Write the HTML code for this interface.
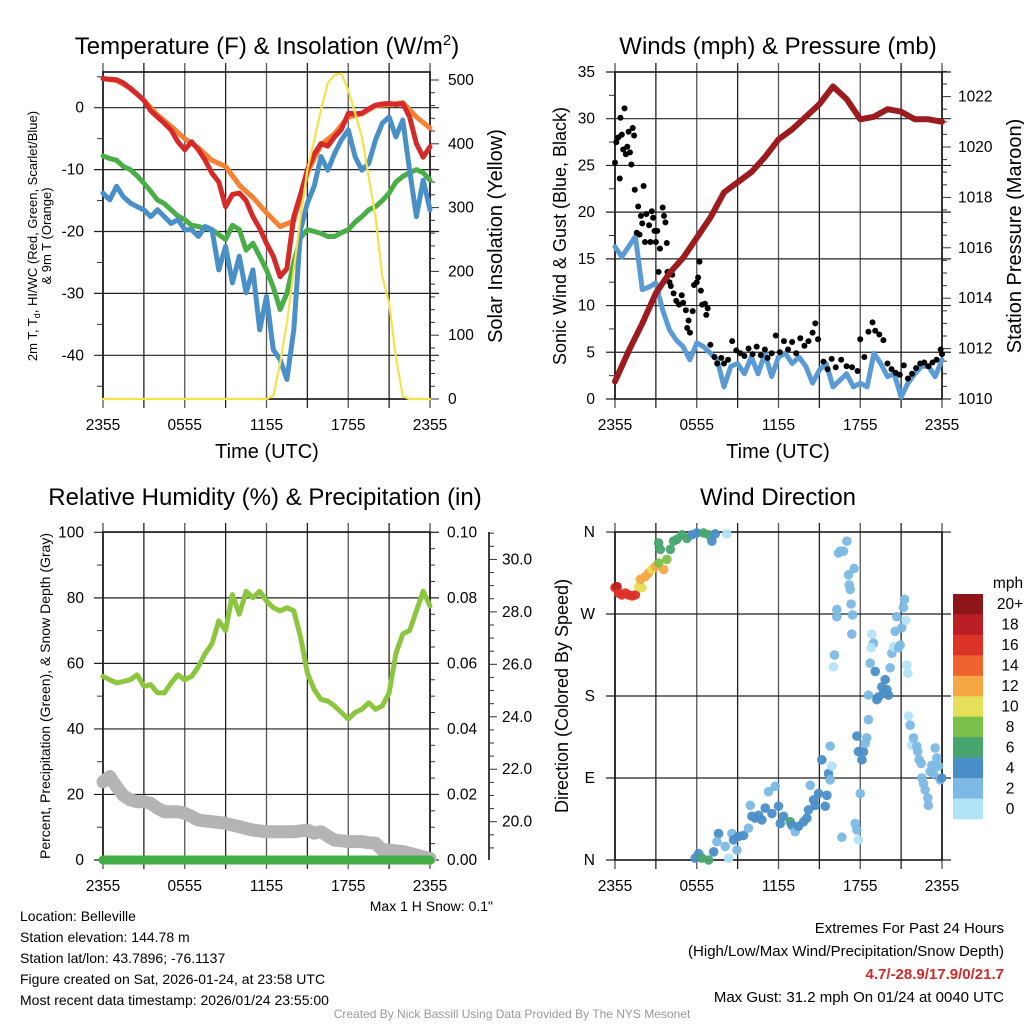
<!DOCTYPE html>
<html><head><meta charset="utf-8"><title>Mesonet Meteogram</title>
<style>
html,body{margin:0;padding:0;background:#fff;}
svg{display:block;font-family:"Liberation Sans",sans-serif;}
</style></head>
<body>
<svg id="fig" width="1024" height="1024" viewBox="0 0 1024 1024" xmlns="http://www.w3.org/2000/svg">
<rect x="0" y="0" width="1024" height="1024" fill="#fff"/>
<text x="267" y="54" font-size="24" text-anchor="middle">Temperature (F) &amp; Insolation (W/m<tspan dy="-9" font-size="15">2</tspan><tspan dy="9">)</tspan></text>
<text x="778" y="54" font-size="24" text-anchor="middle">Winds (mph) &amp; Pressure (mb)</text>
<text x="265" y="505" font-size="24" text-anchor="middle">Relative Humidity (%) &amp; Precipitation (in)</text>
<text x="778" y="505" font-size="24" text-anchor="middle">Wind Direction</text>
<text x="267" y="458" font-size="20" text-anchor="middle">Time (UTC)</text>
<text x="778" y="458" font-size="20" text-anchor="middle">Time (UTC)</text>
<text transform="translate(37,236) rotate(-90)" font-size="13" text-anchor="middle">2m T, T<tspan dy="3" font-size="9">d</tspan><tspan dy="-3">, HI/WC (Red, Green, Scarlet/Blue)</tspan></text>
<text transform="translate(51,236) rotate(-90)" font-size="13" text-anchor="middle">&amp; 9m T (Orange)</text>
<text transform="translate(502,236) rotate(-90)" font-size="20" text-anchor="middle">Solar Insolation (Yellow)</text>
<text transform="translate(566,236) rotate(-90)" font-size="18" text-anchor="middle">Sonic Wind &amp; Gust (Blue, Black)</text>
<text transform="translate(1021,236) rotate(-90)" font-size="20" text-anchor="middle">Station Pressure (Maroon)</text>
<text transform="translate(50,696) rotate(-90)" font-size="14" text-anchor="middle">Percent, Precipitation (Green), &amp; Snow Depth (Gray)</text>
<text transform="translate(568,696) rotate(-90)" font-size="18" text-anchor="middle">Direction (Colored By Speed)</text>
<text x="493" y="911" font-size="14" text-anchor="end">Max 1 H Snow: 0.1"</text>
<g font-size="14">
<text x="20" y="921">Location: Belleville</text>
<text x="20" y="942">Station elevation: 144.78 m</text>
<text x="20" y="963">Station lat/lon: 43.7896; -76.1137</text>
<text x="20" y="984">Figure created on Sat, 2026-01-24, at 23:58 UTC</text>
<text x="20" y="1005">Most recent data timestamp: 2026/01/24 23:55:00</text>
</g>
<g font-size="14" text-anchor="end">
<text x="1004" y="933" font-size="15">Extremes For Past 24 Hours</text>
<text x="1004" y="956" font-size="15">(High/Low/Max Wind/Precipitation/Snow Depth)</text>
<text x="1004" y="979" font-size="15" font-weight="bold" fill="#d02a2a">4.7/-28.9/17.9/0/21.7</text>
<text x="1004" y="1002" font-size="15">Max Gust: 31.2 mph On 01/24 at 0040 UTC</text>
</g>
<text x="512" y="1018" font-size="12" fill="#999" text-anchor="middle">Created By Nick Bassill Using Data Provided By The NYS Mesonet</text>
<g id="layer"></g>
</svg>
<script>
// ---------- data ----------
const timeTicks = ["2355","0555","1155","1755","2355"];
const tempRed = [4.7,4.6,4.5,4.0,3.1,2.2,1.2,-0.5,-1.5,-2.5,-3.6,-5.5,-6.8,-5.5,-6.8,-8.5,-10.6,-12,-16,-14,-13.8,-15,-17.6,-19.5,-21.9,-24,-27.3,-26,-17.6,-14,-10,-7.5,-5.8,-6.2,-4.7,-3.5,-0.9,-1.0,-0.9,-0.2,0.4,0.6,0.7,0.5,0.7,-1.5,-5.8,-8,-6.3];
const temp9m = [4.7,4.4,3.2,1.2,-1.2,-3.0,-5.0,-6.5,-8.5,-9.5,-12.5,-14.5,-17,-19.2,-18.3,-10.5,-6,-4.2,-1.5,-1,0.3,0.5,0.8,-1.5,-3.3];
const dewpoint = [-7.8,-8.2,-8.5,-9.5,-10,-11,-12.2,-13.5,-14.9,-15.5,-16.5,-17.5,-18.1,-19,-19.2,-19.5,-19.7,-20.5,-21.3,-19,-19.7,-23,-21.9,-24,-26.2,-29,-32.6,-30,-25,-21,-19.7,-20,-20.3,-20.8,-20.8,-20.2,-19.7,-18.5,-17.6,-16.5,-16,-15,-13.8,-12,-11.1,-10.5,-10,-10.5,-11.7];
const windChill = [-13.8,-14.9,-12.7,-14.4,-15.4,-16,-16.5,-17.6,-16.5,-17.6,-18.7,-18.1,-19.7,-19.7,-20.8,-19.2,-19.7,-26.2,-22.4,-28.3,-24,-29.9,-26.2,-35.9,-30.5,-39.1,-40.7,-43.9,-35.9,-19.7,-15.4,-12.7,-7.9,-10.1,-7.4,-5.2,-3.6,-7.9,-10.1,-9,-5.2,-2.5,-1.5,-4.7,-2,-10.1,-17.6,-11.7,-16.5];
const solar = [0,0,0,0,0,0,0,0,0,0,0,0,0,0,0,0,0,0,0,0,0,0,0,0,0,5,56,119,202,286,359,406,453,495,508,510,484,448,411,348,286,192,150,66,4,0,0,0,0];
const sonicWind = [16.3,15.2,16.3,17.4,11.7,12,12.4,9.5,7.4,6.3,5.6,4.2,6.0,5.6,4.9,4.2,1.3,3.5,3.8,2.7,4.5,2.7,4.9,2.4,4.5,4.9,3.8,4.5,3.5,1.7,3.1,3.8,1.3,2.0,2.7,1.3,1.7,1.3,4.9,3.8,2.4,2.7,0.2,1.7,2.7,3.5,3.5,2.4,4.2];
const gustTimes = [0.0,0.1,0.25,0.35,0.4,0.5,0.6,0.7,0.8,0.9,1.0,1.1,1.2,1.3,1.4,1.45,1.6,1.7,1.8,1.9,2.0,2.1,2.2,2.3,2.5,2.6,2.7,2.8,2.9,3.0,3.1,3.3,3.5,3.6,3.7,3.8,3.2,3.85,4.0,4.1,4.2,4.3,4.5,4.7,4.9,5.0,5.2,5.3,5.4,5.5,5.7,5.8,6.0,6.1,6.2,6.3,6.4,6.6,6.7,6.8,7.0,7.3,7.5,7.8,8.0,8.3,8.6,8.9,9.2,9.5,9.8,10.1,10.4,10.7,11.0,11.2,11.5,11.8,12.1,12.4,12.7,13.0,13.3,13.6,13.9,14.2,14.5,14.7,14.9,15.3,15.6,15.9,16.2,16.6,17.0,17.4,17.8,18.0,18.3,18.6,18.9,19.1,19.4,19.7,20.0,20.3,20.6,20.9,21.2,21.5,21.8,22.1,22.4,22.7,23.0,23.3,23.6,23.9,24.0];
const gustVals = [25.3,27.5,28,23.6,30.1,28.3,26.7,31.1,26.2,27,28.6,26.4,25.1,29,28.2,22.4,17.8,20.6,17.6,19.6,18.8,22.8,16.8,19.8,18.6,16.8,20.1,19.4,18,16.8,18,16.1,20.5,19.6,18.9,16.7,13.6,13.6,12.5,12.1,13.3,11.3,10.5,10.1,11.1,10.3,9.5,7.6,8.4,7.1,9.4,12.2,12.5,13,14.7,11.6,10.1,10.2,9,9.7,5.8,4.5,3.8,4.4,3.8,4.2,6.2,5.2,4.9,4.6,5.4,4.8,5.6,4.7,5.3,4.4,4.9,6.8,5.0,6.2,5.3,6.1,4.9,6.5,5.7,6.2,7.1,8.1,6.4,4.0,3.2,4.3,3.4,4.2,3.5,3.4,3.0,6.4,4.5,7.2,8.2,7.3,6.9,6.3,3.8,3.2,2.8,2.6,3.6,2.2,2.7,3.3,3.8,3.9,3.5,3.9,4.2,5.3,4.8];
const pressure = [1010.7,1011.9,1013.0,1014.2,1015.0,1015.6,1016.4,1017.2,1018.2,1018.6,1019.0,1019.6,1020.3,1020.7,1021.2,1021.7,1022.4,1021.9,1021.1,1021.2,1021.5,1021.4,1021.1,1021.1,1021.0];
const rh = [56,55,54,54.5,55,56.5,53,53.5,51,51,54,56.5,55,56,59,63,66,73,70,81,75,82,80,82,79,77,76,77,76,68,57,52,49,48.5,47,45,43,45,46,48,46,47,51,63,69,70,76,82,77.5];
const precip = [0,0,0,0,0,0,0,0,0,0,0,0,0,0,0,0,0,0,0,0,0,0,0,0,0];
const snowDepth = [21.52,21.72,21.33,21.0,20.83,20.76,20.76,20.7,20.51,20.38,20.38,20.38,20.32,20.2,20.06,20.03,20.0,19.97,19.94,19.87,19.81,19.74,19.68,19.65,19.62,19.62,19.62,19.62,19.62,19.65,19.68,19.56,19.62,19.45,19.3,19.27,19.24,19.24,19.24,19.2,19.18,18.92,18.92,18.89,18.86,18.8,18.73,18.66,18.6];
const dirTimes = [0.0,0.15,0.27,0.5,0.76,1.0,1.25,1.5,1.74,1.98,1.86,2.22,2.47,2.71,2.96,3.57,3.2,3.33,3.2,3.81,4.06,4.3,4.55,4.91,5.28,5.65,6.01,6.5,6.87,7.11,7.36,8.2,5.89,6.14,6.38,6.87,7.24,7.6,7.48,8.09,8.34,8.58,8.7,8.95,9.07,9.44,9.8,9.93,10.05,10.29,10.54,10.78,11.03,11.27,11.52,11.76,12.0,12.13,12.37,12.86,12.98,13.23,13.47,13.84,14.08,14.2,14.33,14.57,14.69,14.94,15.18,15.43,15.55,15.67,15.79,15.79,15.92,16.04,16.11,16.28,16.28,16.4,16.53,16.77,17.02,17.14,17.19,17.26,17.33,17.38,17.43,17.55,16.65,17.63,17.75,17.87,17.75,17.87,18.12,18.24,18.36,18.48,18.0,18.6,18.6,18.73,18.85,18.97,18.8,19.1,19.22,19.34,19.58,19.7,19.83,19.95,20.07,20.2,20.32,20.44,20.56,20.68,20.81,20.93,21.05,21.17,21.25,21.34,21.42,21.49,21.54,21.66,21.78,21.91,22.15,22.22,22.32,22.47,22.52,22.64,22.76,22.96,23.0,23.13,23.25,23.37,23.5,23.62,23.74,23.86,23.98];
const dirDegs = [299,300,293,291,293,291,290,291,300,299,308,311,315,319,322,319,326,341,348,330,341,350,352,357,353,357,359,359,357,350,358,358,2,7,2,0,9,29,20,15,2,29,22,11,26,27,35,60,48,46,49,44,57,75,51,81,59,40,48,42,38,31,37,42,46,55,82,66,60,73,110,59,71,95,88,125,103,212,225,267,275,337,339,339,350,313,302,297,281,248,269,320,25,40,33,22,136,119,110,119,128,134,73,154,181,216,248,238,233,207,176,179,190,183,198,187,181,211,227,234,251,267,233,236,255,277,286,263,214,205,158,148,126,134,125,119,110,106,90,84,77,68,60,97,104,95,123,112,103,88,90];
const dirSpeeds = [17,18,17,16,17,17,16,17,11,10,12,12,13,11,12,13,9,7,6,8,7,6,6,6,6,5,5,6,6,4,4,1,4,4,6,6,4,4,3,3,1,3,4,2,4,4,3,3,4,4,4,4,4,3,4,3,4,4,4,6,4,3,4,4,4,4,3,4,4,4,4,4,4,4,3,3,1,1,3,3,3,3,3,3,3,3,3,3,3,3,3,3,3,3,2,1,4,4,4,4,3,3,3,3,3,3,1,3,1,4,4,4,4,4,4,4,4,3,3,1,3,3,3,3,3,3,3,1,1,1,1,3,1,3,3,3,3,3,3,3,3,3,3,3,3,3,3,3,3,3,4,4];
const speedBinLabels = ["20+","18","16","14","12","10","8","6","4","2","0"];
const speedBinColors = ["#8e1619","#bb1e24","#dc3328","#ee6330","#f6a845","#e6df5a","#7bc04a","#48a56e","#4a8ec8","#7cb9e4","#b3e3f7"];
const dirTickLabels = ["N","E","S","W","N"];

// ---------- helpers ----------
const NS = "http://www.w3.org/2000/svg";
const layer = document.getElementById("layer");
const TF = 15.5;
function mk(tag, attrs, parent) {
  const e = document.createElementNS(NS, tag);
  for (const k in attrs) e.setAttribute(k, attrs[k]);
  (parent || layer).appendChild(e);
  return e;
}
function txt(x, y, s, attrs, parent) {
  const e = mk("text", Object.assign({x: x, y: y, "font-size": TF}, attrs || {}), parent);
  e.textContent = s;
  return e;
}
function idxHours(arr) { return arr.map((v, i) => i * 24 / (arr.length - 1)); }
function pathFrom(xs, ys) { return xs.map((x, i) => (i ? "L" : "M") + x.toFixed(1) + "," + ys[i].toFixed(1)).join(""); }

const L = {x0: 103, x1: 430}, R = {x0: 615, x1: 942};
const xL = h => L.x0 + h * (L.x1 - L.x0) / 24;
const xR = h => R.x0 + h * (R.x1 - R.x0) / 24;
const yTemp = v => 107.7 - v * 6.19;
const ySolar = v => 399 - v * 0.638;
const yWind = v => 399 - v * 9.343;
const yPres = v => 399 - (v - 1010) * 25.2;
const yRH = v => 860 - v * 3.277;
const yPrecip = v => 860 - v * 3277;
const ySnow = v => 821.7 - (v - 20) * 26.23;
const yDir = v => 860 - v * 0.911;

function frame(P, top, bot, name) {
  const g = mk("g", {});
  
  
  for (let k = 0; k <= 8; k++) {
    const x = P.x0 + k * (P.x1 - P.x0) / 8;
    const ln = mk("line", {x1: x, x2: x, y1: top - 9, y2: bot + 9, stroke: k % 2 ? "#222" : "#555", "stroke-width": 1.3}, g);
    
    
  }
  const fr = mk("rect", {x: P.x0, y: top, width: P.x1 - P.x0, height: bot - top, fill: "none", stroke: "#000", "stroke-width": 1.5}, g);
  
  
  for (let k = 0; k < timeTicks.length; k++) {
    const x = P.x0 + k * (P.x1 - P.x0) / 4;
    const t = txt(x, bot + 31, timeTicks[k], {"text-anchor": "middle"}, g);
    
    
  }
  return g;
}
function hgrid(P, y, g) {
  const ln = mk("line", {x1: P.x0 - 9, x2: P.x1 + 9, y1: y, y2: y, stroke: "#222", "stroke-width": 1.2}, g);
  
  
}
function minor(x, y, dir, len, g) {
  const ln = mk("line", {x1: x, x2: x + dir * len, y1: y, y2: y, stroke: "#333", "stroke-width": 1}, g);
  
  
}
function series(xs, ys, color, w, name, parent) {
  const p = mk("path", {d: pathFrom(xs, ys), fill: "none", stroke: color, "stroke-width": w, "stroke-linejoin": "round", "stroke-linecap": "round"}, parent);
  
  
  return p;
}
function clip(id, P, top, bot) {
  const cp = mk("clipPath", {id: id});
  mk("rect", {x: P.x0 - 8, y: top - 8, width: P.x1 - P.x0 + 16, height: bot - top + 16}, cp);
}

// ---------- Panel 1 ----------
const g1 = frame(L, 72, 399, "temperature-panel");
for (let v = 0; v >= -40; v -= 10) {
  hgrid(L, yTemp(v), g1);
  const t = txt(84, yTemp(v) + 5, String(v), {"text-anchor": "end"}, g1);
  
  
}
for (let v = 5; v >= -45; v -= 10) minor(L.x0, yTemp(v), -1, 6, g1);
for (let v = 0; v <= 500; v += 20) {
  minor(L.x1, ySolar(v), 1, v % 100 ? 5 : 9, g1);
  if (v % 100 === 0) {
    const t = txt(448, ySolar(v) + 5, String(v), {}, g1);
    
    
  }
}
clip("c1", L, 72, 399);
const s1 = mk("g", {"clip-path": "url(#c1)"});


series(idxHours(temp9m).map(xL), temp9m.map(yTemp), "#f58232", 5, "temp-9m-line", s1);
series(idxHours(dewpoint).map(xL), dewpoint.map(yTemp), "#4aae46", 5, "dewpoint-line", s1);
series(idxHours(windChill).map(xL), windChill.map(yTemp), "#4a90c8", 5, "windchill-line", s1);
series(idxHours(tempRed).map(xL), tempRed.map(yTemp), "#d42a2a", 5, "temp-2m-line", s1);
series(idxHours(solar).map(xL), solar.map(ySolar), "#f7e24a", 2.2, "solar-line", s1);

// ---------- Panel 2 ----------
const g2 = frame(R, 72, 399, "wind-panel");
for (let v = 0; v <= 35; v += 5) {
  hgrid(R, yWind(v), g2);
  const t = txt(595, yWind(v) + 5, String(v), {"text-anchor": "end"}, g2);
  
  
}
for (let v = 2.5; v < 35; v += 5) minor(R.x0, yWind(v), -1, 6, g2);
for (let v = 1010; v <= 1023; v += 0.5) {
  const major = Math.abs(v % 2) < 0.01;
  minor(R.x1, yPres(v), 1, major ? 9 : 5, g2);
  if (major) {
    const t = txt(958, yPres(v) + 5, String(v), {}, g2);
    
    
  }
}
clip("c2", R, 72, 399);
const s2 = mk("g", {"clip-path": "url(#c2)"});


series(idxHours(sonicWind).map(xR), sonicWind.map(yWind), "#5b9bd5", 5, "sonic-wind-line", s2);
for (let i = 0; i < gustVals.length; i++) {
  const c = mk("circle", {cx: xR(gustTimes[i]), cy: yWind(gustVals[i]), r: 3, fill: "#000"}, s2);
  
  
}
series(idxHours(pressure).map(xR), pressure.map(yPres), "#9b1b1e", 6, "pressure-line", s2);

// ---------- Panel 3 ----------
const g3 = frame(L, 532, 860, "humidity-panel");
for (let v = 0; v <= 100; v += 20) {
  hgrid(L, yRH(v), g3);
  const t = txt(84, yRH(v) + 5, String(v), {"text-anchor": "end"}, g3);
  
  
}
for (let v = 10; v < 100; v += 20) minor(L.x0, yRH(v), -1, 6, g3);
for (let k = 0; k <= 20; k++) {
  const v = k * 0.005;
  minor(L.x1, yPrecip(v), 1, k % 4 ? 5 : 9, g3);
  if (k % 4 === 0) {
    const t = txt(447, yPrecip(v) + 5, v.toFixed(2), {}, g3);
    
    
  }
}
const snowAxis = mk("line", {x1: 489, x2: 489, y1: 532, y2: 860, stroke: "#000", "stroke-width": 1.5}, g3);


for (let v = 19; v <= 31; v += 0.5) {
  const major = Math.abs(v % 2) < 0.01;
  minor(489, ySnow(v), 1, major ? 8 : 5, g3);
  if (major && v >= 20 && v <= 30) {
    const t = txt(502, ySnow(v) + 5, v.toFixed(1), {}, g3);
    
    
  }
}
clip("c3", L, 532, 860);
const s3 = mk("g", {"clip-path": "url(#c3)"});


series(idxHours(snowDepth).map(xL), snowDepth.map(ySnow), "#b4b4b4", 13, "snow-depth-line", s3);
series(idxHours(precip).map(xL), precip.map(yPrecip), "#45ad45", 9, "precip-line", s3);
series(idxHours(rh).map(xL), rh.map(yRH), "#8cc63f", 5, "rh-line", s3);

// ---------- Panel 4 ----------
const g4 = frame(R, 532, 860, "direction-panel");
for (let k = 0; k < dirTickLabels.length; k++) {
  const v = k * 90;
  hgrid(R, yDir(v), g4);
  const t = txt(595, yDir(v) + 5, dirTickLabels[k], {"text-anchor": "end"}, g4);
  
  
}
clip("c4", R, 532, 860);
const s4 = mk("g", {"clip-path": "url(#c4)"});


function speedColor(s) {
  const bin = Math.min(10, Math.floor(s / 2));
  return speedBinColors[10 - bin];
}
for (let i = 0; i < dirDegs.length; i++) {
  const c = mk("circle", {cx: xR(dirTimes[i]), cy: yDir(dirDegs[i]), r: 4.8, fill: speedColor(dirSpeeds[i]), "fill-opacity": 0.95}, s4);
  
  
}
const cb = mk("g", {});


const cbTop = 594, cbH = 225 / speedBinLabels.length;
for (let i = 0; i < speedBinLabels.length; i++) {
  const r = mk("rect", {x: 953, y: cbTop + i * cbH, width: 30, height: cbH + 0.3, fill: speedBinColors[i]}, cb);
  
  
  const t = txt(1010, cbTop + i * cbH + cbH / 2 + 5, speedBinLabels[i], {"text-anchor": "middle"}, cb);
  
  
}
const mph = txt(1008, 588, "mph", {"text-anchor": "middle"}, cb);


</script>
</body></html>
